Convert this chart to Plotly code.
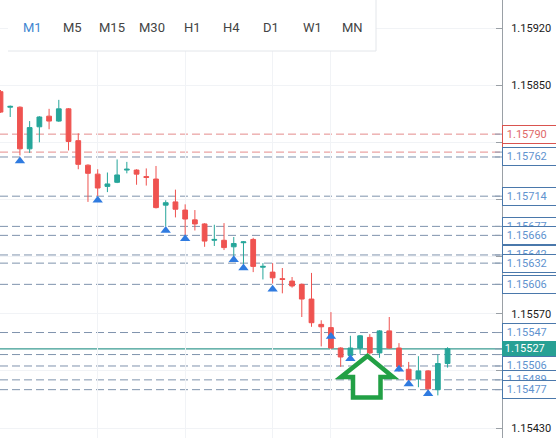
import plotly.graph_objects as go

# ---------------- data ----------------
idx = list(range(47))
opens = [1.15842, 1.15823, 1.15823, 1.15772, 1.15799, 1.15812, 1.15806, 1.15821, 1.15782, 1.15752,
         1.15741, 1.15726, 1.15731, 1.15746, 1.15746, 1.15738, 1.15735, 1.15703, 1.15707, 1.15697,
         1.15685, 1.15680, 1.15660, 1.15660, 1.15652, 1.15657, 1.15661, 1.15627, 1.15621, 1.15613,
         1.15610, 1.15606, 1.15588, 1.15557, 1.15553, 1.15528, 1.15519, 1.15528, 1.15541, 1.15522,
         1.15549, 1.15528, 1.15502, 1.15490, 1.15500, 1.15477, 1.15509]
highs = [1.15844, 1.15825, 1.15824, 1.15806, 1.15812, 1.15821, 1.15832, 1.15822, 1.15791, 1.15753,
         1.15747, 1.15743, 1.15759, 1.15756, 1.15747, 1.15748, 1.15751, 1.15709, 1.15722, 1.15704,
         1.15697, 1.15681, 1.15679, 1.15681, 1.15664, 1.15659, 1.15663, 1.15632, 1.15632, 1.15626,
         1.15615, 1.15607, 1.15620, 1.15562, 1.15572, 1.15529, 1.15543, 1.15544, 1.15545, 1.15550,
         1.15566, 1.15534, 1.15511, 1.15518, 1.15501, 1.15520, 1.15529]
lows = [1.15816, 1.15811, 1.15764, 1.15767, 1.15780, 1.15796, 1.15805, 1.15770, 1.15747, 1.15707,
        1.15714, 1.15719, 1.15730, 1.15742, 1.15728, 1.15727, 1.15699, 1.15677, 1.15688, 1.15666,
        1.15672, 1.15652, 1.15653, 1.15648, 1.15640, 1.15628, 1.15621, 1.15612, 1.15607, 1.15595,
        1.15602, 1.15566, 1.15554, 1.15530, 1.15527, 1.15505, 1.15516, 1.15521, 1.15520, 1.15516,
        1.15527, 1.15499, 1.15486, 1.15480, 1.15475, 1.15470, 1.15504]
closes = [1.15817, 1.15824, 1.15772, 1.15798, 1.15811, 1.15806, 1.15821, 1.15781, 1.15753, 1.15742,
          1.15724, 1.15729, 1.15740, 1.15747, 1.15741, 1.15737, 1.15700, 1.15706, 1.15698, 1.15686,
          1.15680, 1.15659, 1.15661, 1.15651, 1.15656, 1.15658, 1.15628, 1.15628, 1.15614, 1.15612,
          1.15604, 1.15588, 1.15559, 1.15554, 1.15528, 1.15517, 1.15528, 1.15543, 1.15522, 1.15549,
          1.15528, 1.15505, 1.15489, 1.15500, 1.15478, 1.15509, 1.15527]

signal_idx = [2, 10, 17, 19, 24, 25, 28, 34, 36, 41, 42, 44]
signal_price = [1.15757, 1.15709, 1.15672, 1.15662, 1.15636, 1.15626, 1.15600, 1.15542,
                1.15515, 1.15502, 1.15484, 1.15472]

red_levels = [1.15790, 1.15768]
blue_levels = [1.15762, 1.15714, 1.15677, 1.15666, 1.15642, 1.15632, 1.15606,
               1.15547, 1.15520, 1.15506, 1.15489, 1.15477]
current_price = 1.15527

tick_vals = [1.1543, 1.1550, 1.1557, 1.1564, 1.1571, 1.1578, 1.1585, 1.1592]
tick_text = ["1.15430", "", "1.15570", "", "", "", "1.15850", "1.15920"]

timeframes = ["M1", "M5", "M15", "M30", "H1", "H4", "D1", "W1", "MN"]
active_tf = "M1"

vgrid_idx = [10, 19, 28, 34]

# ---------------- layout constants ----------------
W, H = 556, 438
PLOT_W, PLOT_H = 502, 438
X_RANGE = [-0.051, 51.6]
Y_RANGE = [1.154178, 1.159543]

def px(xp):
    return xp / PLOT_W

def py(yp):
    return 1 - yp / PLOT_H

TEAL = "#26a69a"
RED = "#ef5350"
BLUE_DASH = "#7f93ad"
RED_DASH = "#e48b8b"
TRI = "#2f7be0"

fig = go.Figure()

fig.add_trace(go.Candlestick(
    x=idx, open=opens, high=highs, low=lows, close=closes,
    increasing=dict(line=dict(color=TEAL, width=1), fillcolor=TEAL),
    decreasing=dict(line=dict(color=RED, width=1), fillcolor=RED),
    whiskerwidth=0, hoverinfo="skip", showlegend=False,
))

fig.add_trace(go.Scatter(
    x=signal_idx, y=signal_price, mode="markers",
    marker=dict(symbol="triangle-up", size=9, color=TRI, line=dict(width=0)),
    hoverinfo="skip", showlegend=False,
))

shapes = []
annotations = []

# level lines
for lv in red_levels:
    shapes.append(dict(type="line", xref="x", yref="y", x0=X_RANGE[0], x1=X_RANGE[1],
                       y0=lv, y1=lv, layer="below",
                       line=dict(color=RED_DASH, width=1, dash="8px,4px")))
for lv in blue_levels:
    shapes.append(dict(type="line", xref="x", yref="y", x0=X_RANGE[0], x1=X_RANGE[1],
                       y0=lv, y1=lv, layer="below",
                       line=dict(color=BLUE_DASH, width=1, dash="8px,4px")))
shapes.append(dict(type="line", xref="x", yref="y", x0=X_RANGE[0], x1=X_RANGE[1],
                   y0=current_price, y1=current_price, layer="below",
                   line=dict(color="#3a9b92", width=1.2)))

# small tick marks for levels left of the axis
for lv in red_levels + blue_levels + [current_price]:
    shapes.append(dict(type="line", xref="paper", yref="y", x0=px(495), x1=1,
                       y0=lv, y1=lv, layer="above",
                       line=dict(color="#8a9bb0", width=1)))

# price labels (drawn top to bottom so lower ones cover upper ones)
def level_label(lv, color, border):
    return dict(xref="paper", yref="y", x=1, y=lv, xanchor="left", yanchor="middle",
                text="\u2005" + f"{lv:.5f}", showarrow=False, align="left",
                width=56, height=15, borderpad=1, borderwidth=1,
                bordercolor=border, bgcolor="white",
                font=dict(family="Roboto", size=11, color=color))

for lv in red_levels:
    annotations.append(level_label(lv, "#e06868", "#d9534f"))
for lv in blue_levels:
    annotations.append(level_label(lv, "#5f93cf", "#4a78ab"))
    if lv == 1.15520:
        annotations.append(dict(xref="paper", yref="y", x=1, y=current_price,
                                xanchor="left", yanchor="middle",
                                text="\u2005" + f"{current_price:.5f}", showarrow=False,
                                align="left", width=58, height=15, borderpad=0,
                                borderwidth=0, bgcolor="#27a094",
                                font=dict(family="Roboto", size=11, color="white")))

# timeframe bar
shapes.append(dict(type="rect", xref="paper", yref="paper", x0=px(8), x1=px(376),
                   y0=py(51), y1=1, fillcolor="white", line=dict(width=0), layer="above"))
shapes.append(dict(type="line", xref="paper", yref="paper", x0=px(8), x1=px(376),
                   y0=py(51), y1=py(51), line=dict(color="#e3e6ea", width=1), layer="above"))
shapes.append(dict(type="line", xref="paper", yref="paper", x0=px(376), x1=px(376),
                   y0=py(51), y1=1, line=dict(color="#e3e6ea", width=1), layer="above"))
tf_x = [32, 72, 112, 152, 192, 231, 271, 312, 352]
for tf, xx in zip(timeframes, tf_x):
    annotations.append(dict(xref="paper", yref="paper", x=px(xx), y=py(27),
                            xanchor="center", yanchor="middle", text=tf, showarrow=False,
                            font=dict(family="Roboto", size=13,
                                      color="#3f86d0" if tf == active_tf else "#444444")))

# green arrow
pts = [(367.5, 356), (393, 377), (380.5, 377), (380.5, 397.5), (353, 397.5), (353, 377), (341, 377)]
path = "M " + " L ".join(f"{px(a):.5f},{py(b):.5f}" for a, b in pts) + " Z"
shapes.append(dict(type="path", xref="paper", yref="paper", path=path,
                   fillcolor="white", line=dict(color="#22a045", width=4.5), layer="above"))

fig.update_layout(
    width=W, height=H,
    margin=dict(l=0, r=W - PLOT_W, t=0, b=0),
    paper_bgcolor="white", plot_bgcolor="white",
    showlegend=False,
    shapes=shapes, annotations=annotations,
    xaxis=dict(range=X_RANGE, showticklabels=False, showgrid=True, tickvals=vgrid_idx,
               gridcolor="#f1f3f6", zeroline=False, showline=False,
               rangeslider=dict(visible=False), fixedrange=True),
    yaxis=dict(side="right", range=Y_RANGE, tickvals=tick_vals, ticktext=tick_text,
               tickfont=dict(family="Roboto", size=11, color="#1a1a1a"),
               ticks="inside", ticklen=6, tickcolor="#9aa0a6",
               showline=True, linecolor="#9aa0a6", linewidth=1,
               showgrid=True, gridcolor="#f1f3f6", zeroline=False,
               ticklabelstandoff=6, automargin=False, fixedrange=True),
)

fig.write_html("out.html")
